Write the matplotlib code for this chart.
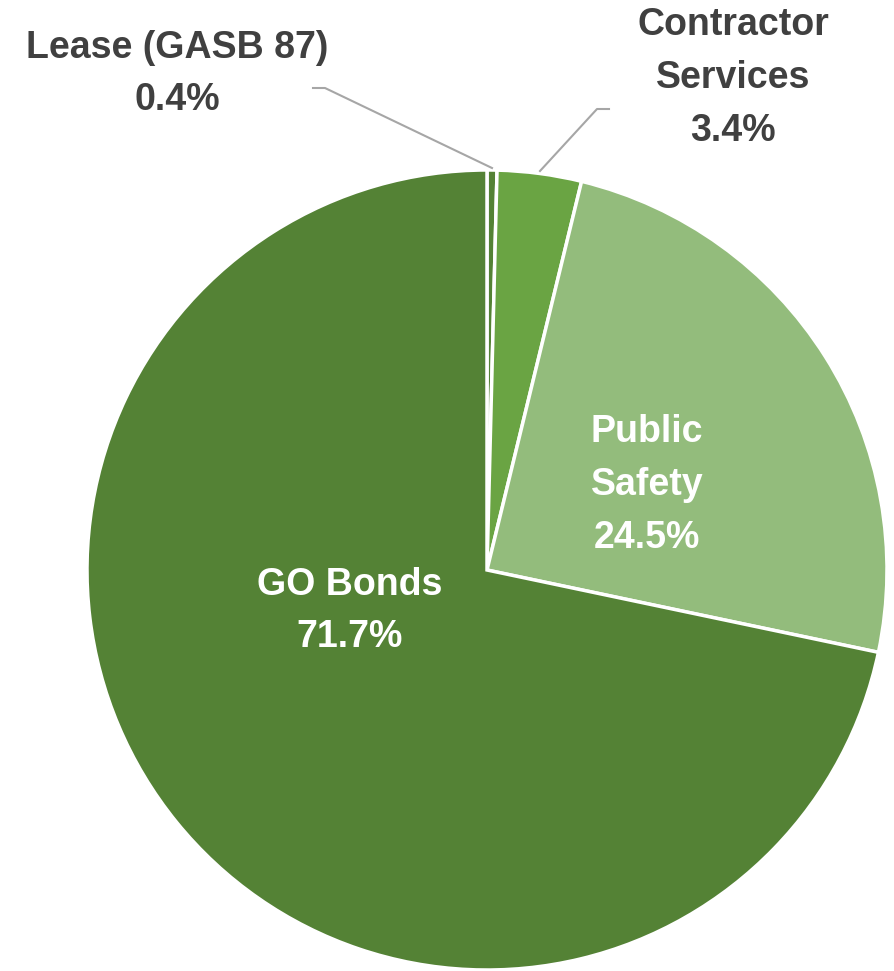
import matplotlib.pyplot as plt

# slice data (clockwise from top)
labels = ['Lease (GASB 87)', 'Contractor\nServices', 'Public\nSafety', 'GO Bonds']
shares = [0.4, 3.4, 24.5, 71.7]
colors = ['#548235', '#6AA443', '#93BC7C', '#548235']

plt.rcParams['font.family'] = ['Liberation Sans', 'DejaVu Sans']

fig = plt.figure(figsize=(8.94, 9.71), dpi=100)
ax = fig.add_axes([0, 0, 1, 1])

cx, cy, r = 487, 401, 400
ax.pie(shares, colors=colors, startangle=90, counterclock=False,
       center=(cx, cy), radius=r, frame=True,
       wedgeprops=dict(edgecolor='white', linewidth=2.5))
ax.set_xlim(0, 894)
ax.set_ylim(0, 971)
ax.set_aspect('equal')
ax.axis('off')

dark = '#404040'
fs = 27
ls = 1.6
# outside labels
ax.text(177, 971 - 74, labels[0] + '\n' + f'{shares[0]}%', ha='center', va='center',
        fontsize=fs, fontweight='bold', color=dark, linespacing=ls)
ax.text(733, 971 - 78, labels[1] + '\n' + f'{shares[1]}%', ha='center', va='center',
        fontsize=fs, fontweight='bold', color=dark, linespacing=ls)
# inside labels
ax.text(647, 971 - 485, labels[2] + '\n' + f'{shares[2]}%', ha='center', va='center',
        fontsize=fs, fontweight='bold', color='white', linespacing=ls)
ax.text(350, 971 - 611, labels[3] + '\n' + f'{shares[3]}%', ha='center', va='center',
        fontsize=fs, fontweight='bold', color='white', linespacing=ls)

# leader lines
ax.plot([313, 325, 492], [971 - 88, 971 - 88, 971 - 168], color='#A6A6A6', lw=1.5)
ax.plot([609, 597, 540], [971 - 109, 971 - 109, 971 - 171], color='#A6A6A6', lw=1.5)

fig.savefig('out.png', dpi=100)
